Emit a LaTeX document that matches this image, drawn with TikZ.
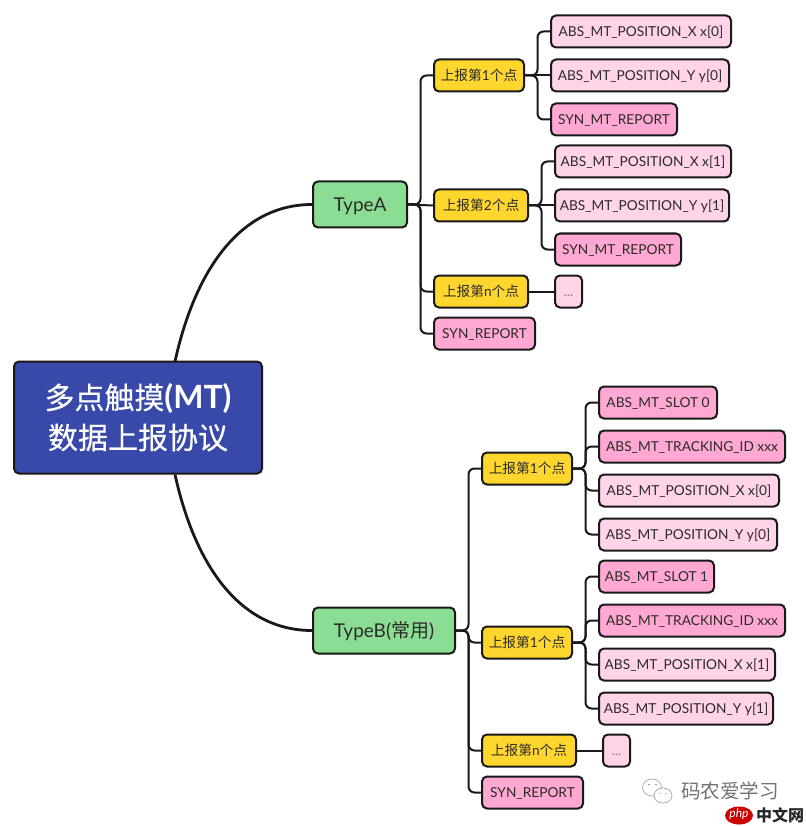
\documentclass[tikz,border=0pt]{standalone}
\usepackage{fontspec}
\usetikzlibrary{shapes.geometric}
\setmainfont{Lato}
\newfontfamily\cjk{Noto Sans CJK SC}
\newfontfamily\cjkheavy[FakeBold=0.35]{Noto Sans CJK SC}
\definecolor{rootblue}{HTML}{3949A9}
\definecolor{typegreen}{HTML}{8CDD94}
\definecolor{pointyellow}{HTML}{FFD62E}
\definecolor{deeppink}{HTML}{FFA8D2}
\definecolor{palepink}{HTML}{FFD3E8}
\definecolor{inkgrey}{HTML}{2B2B2B}
\tikzset{
  box/.style={draw=black!90,line width=2pt,rounded corners=5pt,anchor=west,inner sep=0pt,
    minimum height=32pt,text=inkgrey,font=\fontsize{13.7}{16}\selectfont},
  rootbox/.style={box,fill=rootblue,text=white,minimum height=112pt,align=center,
    font=\fontsize{30}{40}\selectfont},
  typebox/.style={box,fill=typegreen,minimum height=46pt,text height=13.5pt,text depth=0pt,
    font=\fontsize{19}{20}\selectfont},
  pointbox/.style={box,fill=pointyellow,text height=10pt,text depth=0pt},
  deepbox/.style={box,fill=deeppink,text height=10pt,text depth=0pt},
  palebox/.style={box,fill=palepink,text height=10pt,text depth=0pt},
  link/.style={draw=black!90,line width=2pt,rounded corners=6pt},
  mainlink/.style={draw=black!90,line width=2.8pt},
  wmtext/.style={inner sep=0pt}
}
\begin{document}
\begin{tikzpicture}[x=1pt,y=-1pt]
  \useasboundingbox (0,-0.5) rectangle (805,825.5);
  % root
  \node[rootbox,minimum width=248pt] (root) at (13,417) {{\cjkheavy 多点触摸}{\bfseries\fontsize{32}{40}\selectfont (MT)}\\{\cjkheavy 数据上报协议}};
  \coordinate (rootN) at (175,361);
  \coordinate (rootS) at (175,474);
  % type A side
  \node[typebox,minimum width=94pt] (typeA) at (312,204) {TypeA};
  \node[pointbox,minimum width=90pt] (a1) at (433,75) {{\cjk 上报第}1{\cjk 个点}};
  \node[palebox,minimum width=180pt] (a1x) at (550,31) {ABS\_MT\_POSITION\_X x[0]};
  \node[palebox,minimum width=178pt] (a1y) at (550,75) {ABS\_MT\_POSITION\_Y y[0]};
  \node[deepbox,minimum width=126pt] (a1r) at (550,119) {SYN\_MT\_REPORT};
  \node[pointbox,minimum width=94pt] (a2) at (433,205) {{\cjk 上报第}2{\cjk 个点}};
  \node[palebox,minimum width=176pt] (a2x) at (554,161) {ABS\_MT\_POSITION\_X x[1]};
  \node[palebox,minimum width=174pt] (a2y) at (554,205) {ABS\_MT\_POSITION\_Y y[1]};
  \node[deepbox,minimum width=126pt] (a2r) at (554,249) {SYN\_MT\_REPORT};
  \node[pointbox,minimum width=94pt] (an) at (433,291) {{\cjk 上报第}n{\cjk 个点}};
  \node[palebox,minimum width=27pt] (ad) at (554,291) {\textcolor{black!50}{...}};
  \node[deepbox,minimum width=101pt] (ar) at (433,333) {SYN\_REPORT};
  % type B side
  \node[typebox,minimum width=142pt] (typeB) at (312,630) {TypeB({\cjk 常用})};
  \node[pointbox,minimum width=90pt] (b1) at (481,468) {{\cjk 上报第}1{\cjk 个点}};
  \node[deepbox,minimum width=118pt] (b1s) at (598,402) {ABS\_MT\_SLOT 0};
  \node[deepbox,minimum width=186pt] (b1t) at (598,446) {ABS\_MT\_TRACKING\_ID xxx};
  \node[palebox,minimum width=180pt] (b1x) at (598,490) {ABS\_MT\_POSITION\_X x[0]};
  \node[palebox,minimum width=178pt] (b1y) at (598,534) {ABS\_MT\_POSITION\_Y y[0]};
  \node[pointbox,minimum width=90pt] (b2) at (481,642) {{\cjk 上报第}1{\cjk 个点}};
  \node[deepbox,minimum width=115pt] (b2s) at (598,576) {ABS\_MT\_SLOT 1};
  \node[deepbox,minimum width=186pt] (b2t) at (598,620) {ABS\_MT\_TRACKING\_ID xxx};
  \node[palebox,minimum width=176pt] (b2x) at (598,664) {ABS\_MT\_POSITION\_X x[1]};
  \node[palebox,minimum width=174pt] (b2y) at (598,708) {ABS\_MT\_POSITION\_Y y[1]};
  \node[pointbox,minimum width=94pt] (bn) at (481,750) {{\cjk 上报第}n{\cjk 个点}};
  \node[palebox,minimum width=27pt] (bd) at (602,750) {\textcolor{black!50}{...}};
  \node[deepbox,minimum width=101pt] (br) at (481,792) {SYN\_REPORT};
  % curves from the root
  \draw[mainlink] (rootN) .. controls (195,270) and (240,204) .. (typeA.west);
  \draw[mainlink] (rootS) .. controls (195,565) and (240,630) .. (typeB.west);
  % type A links
  \draw[link] (typeA.east) -- (a2.west);
  \draw[link] (typeA.east) -- ++(12.5,0) |- (a1.west);
  \draw[link] (typeA.east) -- ++(12.5,0) |- (an.west);
  \draw[link] (typeA.east) -- ++(12.5,0) |- (ar.west);
  \draw[link] (a1.east) -- (a1y.west);
  \draw[link] (a1.east) -- ++(12.5,0) |- (a1x.west);
  \draw[link] (a1.east) -- ++(12.5,0) |- (a1r.west);
  \draw[link] (a2.east) -- (a2y.west);
  \draw[link] (a2.east) -- ++(12.5,0) |- (a2x.west);
  \draw[link] (a2.east) -- ++(12.5,0) |- (a2r.west);
  \draw[link] (an.east) -- (ad.west);
  % type B links
  \draw[link] (typeB.east) -- ++(12.5,0) |- (b1.west);
  \draw[link] (typeB.east) -- ++(12.5,0) |- (b2.west);
  \draw[link] (typeB.east) -- ++(12.5,0) |- (bn.west);
  \draw[link] (typeB.east) -- ++(12.5,0) |- (br.west);
  \draw[link] (b1.east) -- ++(12.5,0) |- (b1s.west);
  \draw[link] (b1.east) -- ++(12.5,0) |- (b1t.west);
  \draw[link] (b1.east) -- ++(12.5,0) |- (b1x.west);
  \draw[link] (b1.east) -- ++(12.5,0) |- (b1y.west);
  \draw[link] (b2.east) -- ++(12.5,0) |- (b2s.west);
  \draw[link] (b2.east) -- ++(12.5,0) |- (b2t.west);
  \draw[link] (b2.east) -- ++(12.5,0) |- (b2x.west);
  \draw[link] (b2.east) -- ++(12.5,0) |- (b2y.west);
  \draw[link] (bn.east) -- (bd.west);
  % watermark
  \draw[black!35,line width=0.7pt] (652,787) ellipse (9.5 and 8.5);
  \draw[black!35,line width=0.7pt,fill=white] (663,795) ellipse (9 and 7.5);
  \fill[black!45] (649,784) circle (0.8) (656,784) circle (0.8) (660,793) circle (0.7) (666,793) circle (0.7);
  \node[wmtext,text=black!55,font=\cjk\fontsize{19.6}{20}\selectfont] (wechatname) at (730,790) {码农爱学习};
  \node[wmtext,fill=red!80!black,ellipse,minimum width=28pt,minimum height=18pt] (phpbadge) at (739,815) {};
  \node[wmtext,text=white,font=\fontsize{12}{12}\selectfont\itshape] (phptext) at (739,814) {php};
  \node[wmtext,text=black!85,font=\cjk\bfseries\fontsize{16}{16}\selectfont] (cntext) at (780,815) {中文网};
\end{tikzpicture}
\end{document}
